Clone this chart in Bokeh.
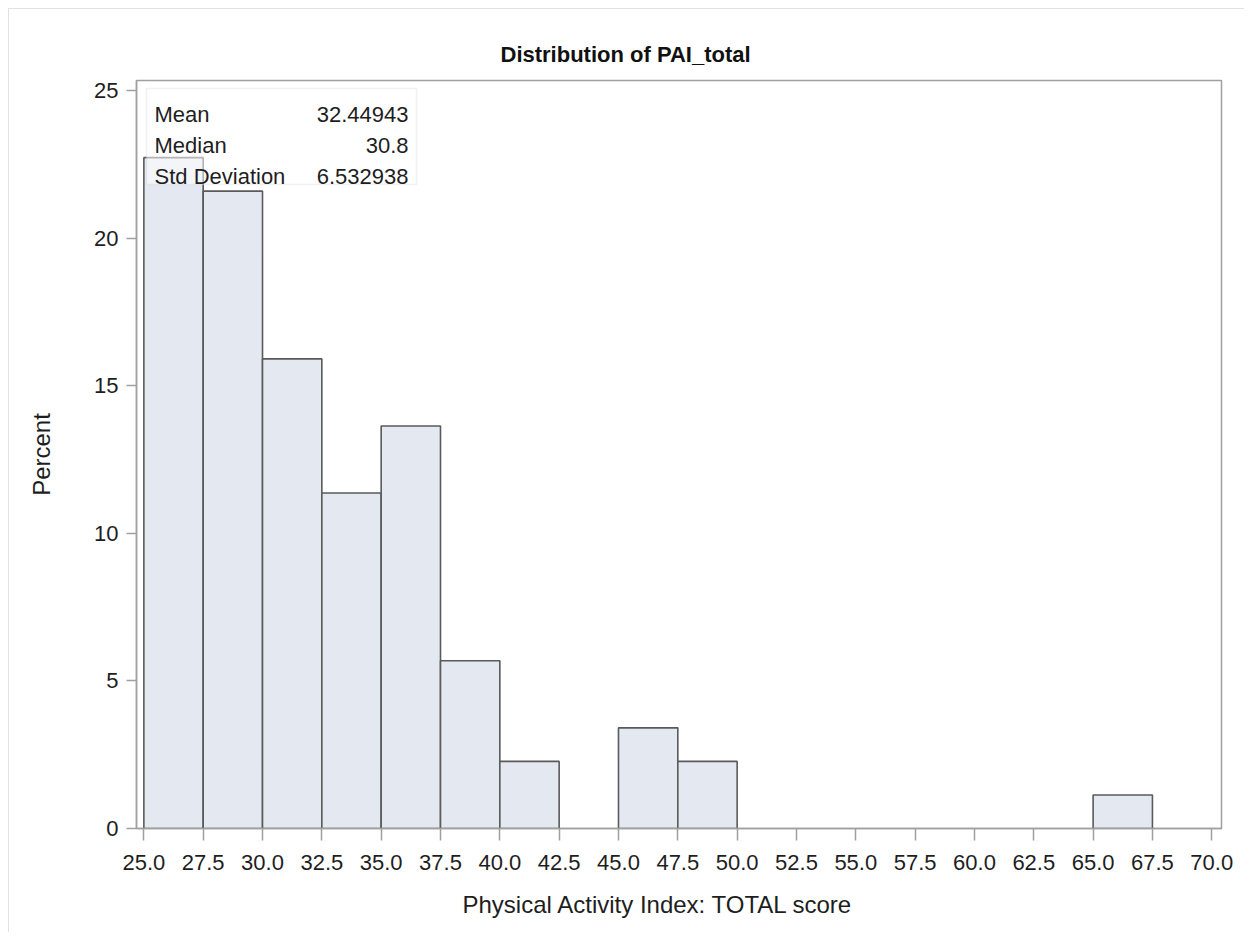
from bokeh.plotting import figure
from bokeh.models import Range1d, FixedTicker, BoxAnnotation, Label, Title
from bokeh.embed import file_html
from bokeh.resources import INLINE

# ---- data ----
bin_left = [25.0, 27.5, 30.0, 32.5, 35.0, 37.5, 40.0, 42.5, 45.0, 47.5,
            50.0, 52.5, 55.0, 57.5, 60.0, 62.5, 65.0]
bin_right = [27.5, 30.0, 32.5, 35.0, 37.5, 40.0, 42.5, 45.0, 47.5, 50.0,
             52.5, 55.0, 57.5, 60.0, 62.5, 65.0, 67.5]
percent = [22.727, 21.591, 15.909, 11.364, 13.636, 5.682, 2.273, 0.0, 3.409, 2.273,
           0.0, 0.0, 0.0, 0.0, 0.0, 0.0, 1.136]

x_ticks = [25.0, 27.5, 30.0, 32.5, 35.0, 37.5, 40.0, 42.5, 45.0, 47.5,
           50.0, 52.5, 55.0, 57.5, 60.0, 62.5, 65.0, 67.5, 70.0]
x_tick_labels = ["25.0", "27.5", "30.0", "32.5", "35.0", "37.5", "40.0", "42.5", "45.0", "47.5",
                 "50.0", "52.5", "55.0", "57.5", "60.0", "62.5", "65.0", "67.5", "70.0"]
y_ticks = [0, 5, 10, 15, 20, 25]

stat_names = ["Mean", "Median", "Std Deviation"]
stat_values = ["32.44943", "30.8", "6.532938"]

title_text = "Distribution of PAI_total"
x_label = "Physical Activity Index: TOTAL score"
y_label = "Percent"

FONT = "Liberation Sans"
TXT = "#1e1e1e"
GRAY = "#a0a0a0"

p = figure(width=1236, height=924, output_backend="svg", toolbar_location=None,
           x_range=Range1d(24.69, 70.41), y_range=Range1d(0, 25.34),
           min_border_left=127, min_border_right=24, min_border_top=71, min_border_bottom=104)
p.styles = {"margin-left": "8px", "margin-top": "8px",
            "border-top": "1px solid #e2e2e2", "border-left": "1px solid #e2e2e2"}

p.title = Title(text=title_text, text_font=FONT, text_font_style="bold",
                text_font_size="22px", text_color="#111111", align="left", offset=364,
                standoff=28)

p.xgrid.visible = False
p.ygrid.visible = False
p.background_fill_color = "white"
p.border_fill_color = "white"
p.outline_line_color = GRAY
p.outline_line_width = 1.5

keep = [i for i, v in enumerate(percent) if v > 0]
p.quad(left=[bin_left[i] for i in keep], right=[bin_right[i] for i in keep],
       bottom=0, top=[percent[i] for i in keep],
       fill_color="#e4e8f1", line_color="#5a5a5a", line_width=1.6)

for ax in (p.xaxis[0], p.yaxis[0]):
    ax.axis_line_color = GRAY
    ax.axis_line_width = 1.5
    ax.major_tick_line_color = GRAY
    ax.major_tick_line_width = 1.5
    ax.minor_tick_line_color = None
    ax.major_tick_in = 0
    ax.major_label_text_font = FONT
    ax.major_label_text_color = TXT
    ax.axis_label_text_font = FONT
    ax.axis_label_text_color = TXT
    ax.axis_label_text_font_style = "normal"

p.xaxis.ticker = FixedTicker(ticks=x_ticks)
p.xaxis.major_label_overrides = {t: l for t, l in zip(x_ticks, x_tick_labels)}
p.xaxis.major_tick_out = 12
p.xaxis.major_label_text_font_size = "22px"
p.xaxis.major_label_standoff = 14

# x-axis title, placed as a below-panel title so it can sit left of the frame centre
p.add_layout(Title(text=x_label, text_font=FONT, text_font_style="normal",
                   text_font_size="24px", text_color=TXT, align="left", offset=326,
                   standoff=32), "below")

p.yaxis.ticker = FixedTicker(ticks=y_ticks)
p.yaxis.major_tick_out = 10
p.yaxis.major_label_text_font_size = "22px"
p.yaxis.major_label_standoff = 8
p.yaxis.axis_label = y_label
p.yaxis.axis_label_text_font_size = "24px"
p.yaxis.axis_label_standoff = 36

# stats inset (frame-relative screen units)
p.add_layout(BoxAnnotation(left=10, right=280, bottom=644, top=740,
                           left_units="screen", right_units="screen",
                           bottom_units="screen", top_units="screen",
                           fill_color="white", fill_alpha=0.55,
                           line_color="#cfcfcf", line_width=1.5))
row_y = [714, 683, 652.5]
for name, val, yy in zip(stat_names, stat_values, row_y):
    p.add_layout(Label(x=18, y=yy, x_units="screen", y_units="screen", text=name,
                       text_font=FONT, text_font_size="22px", text_color=TXT,
                       text_align="left", text_baseline="alphabetic"))
    p.add_layout(Label(x=272, y=yy, x_units="screen", y_units="screen", text=val,
                       text_font=FONT, text_font_size="22px", text_color=TXT,
                       text_align="right", text_baseline="alphabetic"))

open("out.html", "w").write(file_html(p, INLINE))
